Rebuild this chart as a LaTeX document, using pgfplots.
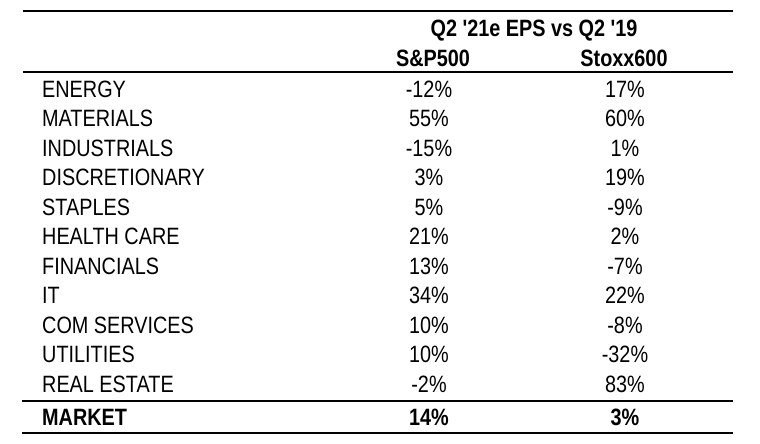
\documentclass[border=0pt]{standalone}
\usepackage{fontspec}
\newfontfamily\narrowfont{Liberation Sans}[FakeStretch=0.84]
\usepackage{pgfplots}
\usepackage{pgfplotstable}
\pgfplotsset{compat=1.18}

\pgfplotstableread[col sep=comma]{
row,label,sp,stoxx
0,ENERGY,-12,17
1,MATERIALS,55,60
2,INDUSTRIALS,-15,1
3,DISCRETIONARY,3,19
4,STAPLES,5,-9
5,HEALTH CARE,21,2
6,FINANCIALS,13,-7
7,IT,34,22
8,COM SERVICES,10,-8
9,UTILITIES,10,-32
10,REAL ESTATE,-2,83
}\sectors

\newcommand{\tfont}{\narrowfont\fontsize{23.7}{28}\selectfont}

\begin{document}
\begin{tikzpicture}
\begin{axis}[
  width=760bp, height=443bp, scale only axis,
  xmin=0, xmax=760, ymin=0, ymax=443, y dir=reverse,
  hide axis, clip=false,
  every node near coord/.append style={font=\tfont, inner sep=0pt, text=black},
]
\path[fill=white] (rel axis cs:0,0) rectangle (rel axis cs:1,1);
% rules
\addplot[black, line width=2bp] coordinates {(23,11.5) (733,11.5)};
\addplot[black, line width=2bp] coordinates {(23,72) (733,72)};
\addplot[black, line width=2bp] coordinates {(22,400.5) (733,400.5)};
\addplot[black, line width=2bp] coordinates {(22,433) (733,433)};
% row labels
\addplot[only marks, mark=*, mark size=0pt, mark options={draw=none,fill=none},
  point meta=explicit symbolic, nodes near coords={\pgfplotspointmeta},
  nodes near coords style={anchor=base west}]
  table[x expr=42, y expr=97+29.55*\thisrow{row}, meta=label] {\sectors};
% S&P500 values
\addplot[only marks, mark=*, mark size=0pt, mark options={draw=none,fill=none},
  point meta=explicit symbolic, nodes near coords={\pgfplotspointmeta\%},
  nodes near coords style={anchor=base}]
  table[x expr=429, y expr=97+29.55*\thisrow{row}, meta=sp] {\sectors};
% Stoxx600 values
\addplot[only marks, mark=*, mark size=0pt, mark options={draw=none,fill=none},
  point meta=explicit symbolic, nodes near coords={\pgfplotspointmeta\%},
  nodes near coords style={anchor=base}]
  table[x expr=625, y expr=97+29.55*\thisrow{row}, meta=stoxx] {\sectors};
% market row
\addplot[only marks, mark=*, mark size=0pt, mark options={draw=none,fill=none},
  point meta=explicit symbolic, nodes near coords={\bfseries\pgfplotspointmeta},
  nodes near coords style={anchor=base west}]
  coordinates {(42,425) [MARKET]};
\addplot[only marks, mark=*, mark size=0pt, mark options={draw=none,fill=none},
  point meta=explicit symbolic, nodes near coords={\bfseries\pgfplotspointmeta\%},
  nodes near coords style={anchor=base}]
  coordinates {(429,425) [14] (625,425) [3]};
% header
\addplot[only marks, mark=*, mark size=0pt, mark options={draw=none,fill=none},
  point meta=explicit symbolic, nodes near coords={\bfseries\pgfplotspointmeta},
  nodes near coords style={anchor=base}]
  coordinates {(534,37) [{Q2 '21e EPS vs Q2 '19}] (433,67) [{S\&P500}] (624,67) [{Stoxx600}]};
\end{axis}
\end{tikzpicture}
\end{document}
